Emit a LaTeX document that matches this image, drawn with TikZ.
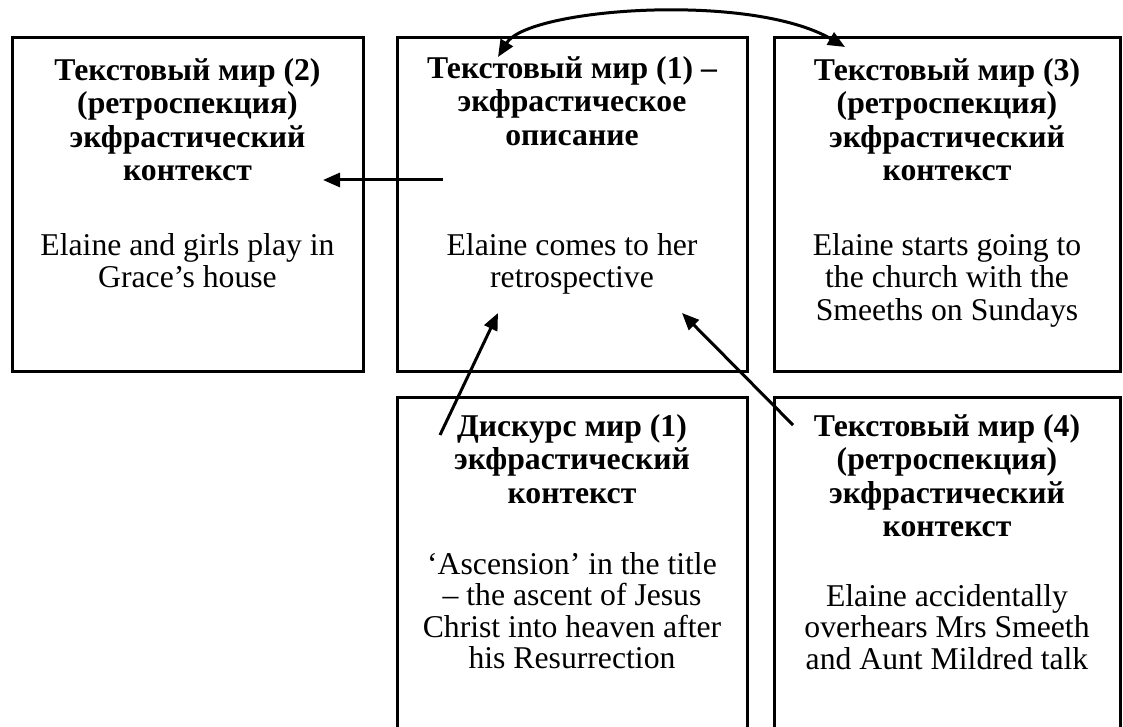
\documentclass[tikz,border=0pt]{standalone}
\usepackage{fontspec}
\setmainfont{Liberation Serif}
\usetikzlibrary{arrows.meta}
\tikzset{
  box/.style={draw, line width=3pt, inner sep=0pt, outer sep=0pt},
  ttl/.style={font=\fontsize{31.7}{33.5}\selectfont\bfseries, align=center, inner sep=0pt, anchor=north},
  bdy/.style={font=\fontsize{31.7}{32.5}\selectfont, align=center, inner sep=0pt, anchor=north},
  bdyb/.style={font=\fontsize{31.7}{31.5}\selectfont, align=center, inner sep=0pt, anchor=north},
  arr/.style={line width=3pt, -{Triangle[length=17pt,width=14pt]}},
  darr/.style={line width=3pt, {Triangle[length=17pt,width=14pt]}-{Triangle[length=17pt,width=14pt]}},
}
\newcommand{\fs}{\rule{0pt}{23pt}}
\begin{document}
\begin{tikzpicture}[x=1pt,y=-1pt]
\useasboundingbox (0,0) rectangle (1123,727);
\clip (0,0) rectangle (1123,727);
% boxes
\node[box, minimum width=351pt, minimum height=333pt] (b2) at (187.5,204.5) {};
\node[box, minimum width=350pt, minimum height=333pt] (b1) at (572,204.5) {};
\node[box, minimum width=346pt, minimum height=333pt] (b3) at (947,204.5) {};
\node[box, minimum width=350pt, minimum height=363pt] (d1) at (572,578.5) {};
\node[box, minimum width=346pt, minimum height=363pt] (b4) at (947,578.5) {};
% texts top row
\node[ttl] (t2) at (187.5,57) {\fs Текстовый мир (2)\\(ретроспекция)\\экфрастический\\контекст};
\node[bdy] (x2) at (187.5,232) {\fs Elaine and girls play in\\Grace’s house};
\node[ttl] (t1) at (572,55) {\fs Текстовый мир (1) –\\экфрастическое\\описание};
\node[bdy] (x1) at (572,232) {\fs Elaine comes to her\\retrospective};
\node[ttl] (t3) at (947,57) {\fs Текстовый мир (3)\\(ретроспекция)\\экфрастический\\контекст};
\node[bdy] (x3) at (947,232) {\fs Elaine starts going to\\the church with the\\Smeeths on Sundays};
% texts bottom row
\node[ttl] (td) at (572,413) {\fs Дискурс мир (1)\\экфрастический\\контекст};
\node[bdyb] (xd) at (572,551) {\fs ‘Ascension’ in the title\\– the ascent of Jesus\\Christ into heaven after\\his Resurrection};
\node[ttl] (t4) at (947,413) {\fs Текстовый мир (4)\\(ретроспекция)\\экфрастический\\контекст};
\node[bdyb] (x4) at (947,583) {\fs Elaine accidentally\\overhears Mrs Smeeth\\and Aunt Mildred talk};
% arrow end points
\coordinate (h1) at (443,180);
\coordinate (h2) at (323,180);
\coordinate (u1) at (440,435);
\coordinate (u2) at (498,313);
\coordinate (v1) at (793,425);
\coordinate (v2) at (682,313);
\coordinate (c1) at (498,57);
\coordinate (c2) at (845,47);
% connectors
\draw[arr] (h1) -- (h2);
\draw[arr] (u1) -- (u2);
\draw[arr] (v1) -- (v2);
\draw[darr] (c1) .. controls (528,8) and (750,-8) .. (c2);
\end{tikzpicture}
\end{document}
